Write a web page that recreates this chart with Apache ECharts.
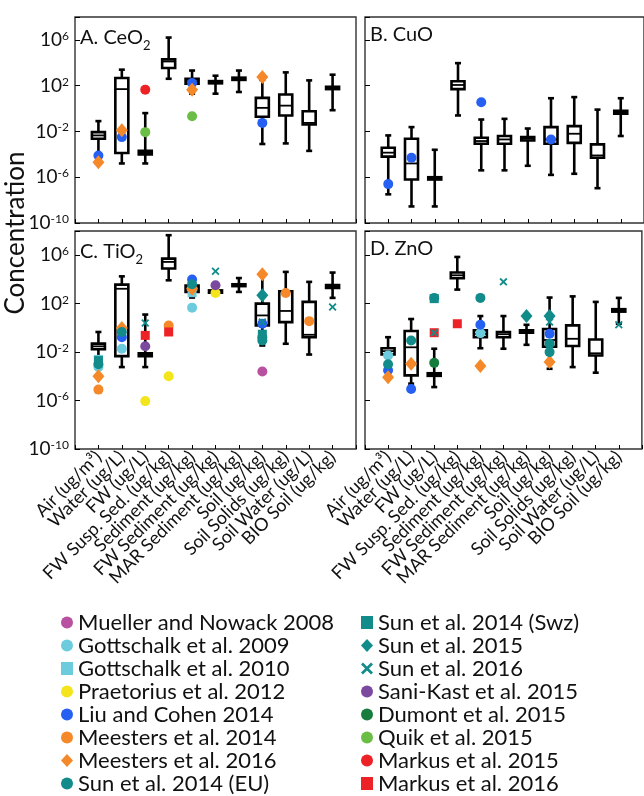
<!DOCTYPE html>
<html>
<head>
<meta charset="utf-8">
<script src="https://cdn.jsdelivr.net/npm/echarts@6/dist/echarts.min.js"></script>
<style>
  html, body { margin: 0; padding: 0; background: #fff; }
  #chart { width: 644px; height: 796px; }
</style>
</head>
<body>
<div id="chart"></div>
<script>
const FONT = "Lato";

const categories = [
  "Air (ug/m³)", "Water (ug/L)", "FW (ug/L)", "FW Susp. Sed. (ug/kg)",
  "Sediment (ug/kg)", "FW Sediment (ug/kg)", "MAR Sediment (ug/kg)",
  "Soil (ug/kg)", "Soil Solids (ug/kg)", "Soil Water (ug/L)", "BIO Soil (ug/kg)"
];
const yTickExps = [-10, -6, -2, 2, 6];
const panelTitles = ["A. CeO{s|2}", "B. CuO", "C. TiO{s|2}", "D. ZnO"];

// box data: [category position, min, q1, median, q3, max]
const boxCeO2 = [
  [1, 5e-5, 2.3e-3, 4.5e-3, 8.7e-3, 8e-2],
  [2, 1.6e-5, 1.3e-4, 50, 470, 2500],
  [3, 1.6e-5, 1e-4, 1.4e-4, 2e-4, 0.4],
  [4, 400, 3500, 1.3e4, 2e4, 1.6e6],
  [5, 20, 150, 250, 400, 2100],
  [6, 20, 160, 200, 250, 740],
  [7, 28, 320, 400, 500, 2100],
  [8, 8e-4, 0.19, 1.15, 8.5, 320],
  [9, 9e-4, 0.25, 1.8, 17, 1450],
  [10, 2e-4, 0.04, 0.056, 0.59, 290],
  [11, 0.72, 50, 63, 80, 910]
];
const boxCuO = [
  [1, 3.2e-8, 6.3e-5, 1.4e-4, 3.8e-4, 4.5e-3],
  [2, 2.8e-9, 6.3e-7, 1.6e-5, 2.3e-3, 2.4e-2],
  [3, 2.8e-9, 6.3e-7, 8e-7, 1e-6, 2.5e-4],
  [4, 0.25, 50, 115, 240, 9300],
  [5, 4e-6, 8.5e-4, 1.45e-3, 2.8e-3, 0.11],
  [6, 4e-6, 8.5e-4, 2e-3, 4e-3, 0.126],
  [7, 1e-5, 1.6e-3, 2.3e-3, 3.2e-3, 1.8e-2],
  [8, 1.6e-6, 8.5e-4, 2e-3, 2.4e-2, 8],
  [9, 2e-6, 1e-3, 6.3e-3, 2.9e-2, 10],
  [10, 1.1e-7, 5e-5, 8e-5, 7.4e-4, 0.81],
  [11, 4e-3, 0.35, 0.48, 0.63, 8]
];
const boxTiO2 = [
  [1, 1.1e-3, 1.7e-2, 3e-2, 5e-2, 0.46],
  [2, 5.8e-4, 4.7e-3, 1700, 3700, 1.8e4],
  [3, 5.8e-4, 4.5e-3, 6.3e-3, 8e-3, 12.6],
  [4, 8500, 8e4, 2.8e5, 5.2e5, 4.5e7],
  [5, 320, 930, 1700, 3200, 8500],
  [6, 560, 800, 1000, 1250, 1600],
  [7, 930, 2800, 3300, 4000, 1.3e4],
  [8, 3.5e-2, 1.6, 10.7, 100, 2e4],
  [9, 4.9e-2, 3, 25, 1050, 4.2e4],
  [10, 6.3e-3, 0.17, 0.27, 140, 6300],
  [11, 300, 2000, 2700, 3500, 3.7e4]
];
const boxZnO = [
  [1, 1.3e-3, 6.3e-3, 1.2e-2, 2.1e-2, 0.17],
  [2, 2.5e-5, 1.2e-4, 2.5e-2, 0.55, 5.4],
  [3, 1.3e-5, 1.1e-4, 1.4e-4, 1.8e-4, 1.9e-2],
  [4, 1450, 1.26e4, 2.2e4, 3.7e4, 7.2e5],
  [5, 2.1e-2, 0.17, 0.32, 0.63, 9.5],
  [6, 1.9e-2, 0.17, 0.3, 0.46, 9.5],
  [7, 4e-2, 0.4, 0.51, 0.63, 1.8],
  [8, 4.2e-4, 2.8e-2, 0.1, 0.8, 320],
  [9, 5.8e-4, 3.2e-2, 0.126, 1.6, 400],
  [10, 2e-4, 5.2e-3, 8e-3, 0.11, 140],
  [11, 2.2, 22, 28, 35, 300]
];

const studies = [
  "Mueller and Nowack 2008", "Gottschalk et al. 2009", "Gottschalk et al. 2010",
  "Praetorius et al. 2012", "Liu and Cohen 2014", "Meesters et al. 2014",
  "Meesters et al. 2016", "Sun et al. 2014 (EU)", "Sun et al. 2014 (Swz)",
  "Sun et al. 2015", "Sun et al. 2016", "Sani-Kast et al. 2015",
  "Dumont et al. 2015", "Quik et al. 2015", "Markus et al. 2015", "Markus et al. 2016"
];
const studyColors = [
  "#b8519f", "#6ccbdd", "#6ccbdd", "#f4e41c", "#2660f2", "#f5892a",
  "#f5892a", "#118c8a", "#118c8a", "#118c8a", "#118c8a", "#7b4a9e",
  "#177d3f", "#6abd45", "#ed2227", "#ed2227"
];
const XMARK = "path://M0,1.6L1.6,0L5,3.4L8.4,0L10,1.6L6.6,5L10,8.4L8.4,10L5,6.6L1.6,10L0,8.4L3.4,5Z";
const studySymbols = [
  "circle", "circle", "rect", "circle", "circle", "circle",
  "diamond", "circle", "rect", "diamond", XMARK, "circle",
  "circle", "circle", "circle", "rect"
];

// study points per panel: [category position, value]
const ptsCeO2 = {
  "Liu and Cohen 2014": [[1, 8e-5], [2, 3.2e-3], [5, 170], [8, 0.056]],
  "Meesters et al. 2016": [[1, 2e-5], [2, 1.3e-2], [5, 45], [8, 560]],
  "Quik et al. 2015": [[3, 8.7e-3], [5, 0.21]],
  "Markus et al. 2015": [[3, 45]]
};
const ptsCuO = {
  "Liu and Cohen 2014": [[1, 2.5e-7], [2, 5e-5], [5, 3.5], [8, 2e-3]]
};
const ptsTiO2 = {
  "Mueller and Nowack 2008": [[8, 2.5e-4]],
  "Gottschalk et al. 2009": [[1, 6e-4], [2, 1.9e-2], [5, 47]],
  "Gottschalk et al. 2010": [[1, 2.5e-3], [2, 0.3], [5, 800]],
  "Praetorius et al. 2012": [[3, 9e-7], [4, 1e-4], [6, 760]],
  "Liu and Cohen 2014": [[2, 0.17], [5, 1e4], [8, 2.2]],
  "Meesters et al. 2014": [[1, 8e-6], [4, 1.6], [9, 760], [10, 3.6]],
  "Meesters et al. 2016": [[1, 1e-4], [2, 1], [5, 1700], [8, 2.7e4]],
  "Sun et al. 2014 (EU)": [[1, 1e-3], [2, 0.46], [5, 4000], [8, 0.17], [8, 0.09]],
  "Sun et al. 2014 (Swz)": [[1, 2e-3], [8, 0.3]],
  "Sun et al. 2015": [[8, 500]],
  "Sani-Kast et al. 2015": [[3, 3e-2], [6, 3300]],
  "Markus et al. 2016": [[3, 0.24], [4, 0.46]],
  "Sun et al. 2016": [[3, 2.5], [6, 4.8e4], [8, 3], [11, 53]]
};
const ptsZnO = {
  "Gottschalk et al. 2009": [[1, 5.2e-3], [5, 0.37]],
  "Liu and Cohen 2014": [[1, 3.2e-4], [2, 9e-6], [5, 1.8], [8, 0.33]],
  "Meesters et al. 2016": [[1, 8.5e-5], [2, 1.1e-3], [5, 7e-4], [8, 1.5e-3]],
  "Sun et al. 2014 (Swz)": [[3, 260]],
  "Sun et al. 2014 (EU)": [[1, 1e-3], [2, 9e-2], [3, 300], [5, 300], [8, 5e-2], [8, 1e-2]],
  "Sun et al. 2015": [[7, 9.5], [8, 9.5]],
  "Dumont et al. 2015": [[3, 1.3e-3]],
  "Markus et al. 2016": [[3, 0.4], [4, 2.2]],
  "Sun et al. 2016": [[3, 0.4], [6, 6300], [8, 3], [11, 1.8]]
};

const boxes = [boxCeO2, boxCuO, boxTiO2, boxZnO];
const points = [ptsCeO2, ptsCuO, ptsTiO2, ptsZnO];

const grids = [
  { left: 75, top: 17, width: 281, height: 206 },
  { left: 365, top: 17, width: 280, height: 206 },
  { left: 75, top: 231, width: 281, height: 218 },
  { left: 365, top: 231, width: 280, height: 218 }
];

function renderBox(params, api) {
  const x = api.value(0);
  const pMax = api.coord([x, api.value(5)]);
  const pQ3 = api.coord([x, api.value(4)]);
  const pMed = api.coord([x, api.value(3)]);
  const pQ1 = api.coord([x, api.value(2)]);
  const pMin = api.coord([x, api.value(1)]);
  const cx = pMax[0];
  const hw = 6.5;
  const cw = 3;
  const ln = { stroke: "#000", lineWidth: 2.6 };
  return {
    type: "group",
    children: [
      { type: "line", shape: { x1: cx, y1: pMax[1], x2: cx, y2: pMin[1] }, style: ln },
      { type: "line", shape: { x1: cx - cw, y1: pMax[1], x2: cx + cw, y2: pMax[1] }, style: ln },
      { type: "line", shape: { x1: cx - cw, y1: pMin[1], x2: cx + cw, y2: pMin[1] }, style: ln },
      {
        type: "rect",
        shape: { x: cx - hw, y: pQ3[1], width: hw * 2, height: pQ1[1] - pQ3[1] },
        style: { fill: "#fff", stroke: "#000", lineWidth: 2.6 }
      },
      { type: "line", shape: { x1: cx - hw, y1: pMed[1], x2: cx + hw, y2: pMed[1] }, style: { stroke: "#000", lineWidth: 1.8 } }
    ]
  };
}

const chart = echarts.init(document.getElementById("chart"), null, { renderer: "canvas" });

const xAxes = grids.map((g, i) => ({
  type: "value",
  gridIndex: i,
  min: 0,
  max: 12,
  interval: 1,
  axisLine: { show: false },
  axisTick: { inside: true, length: 4, lineStyle: { color: "#000", width: 1 } },
  splitLine: { show: false },
  axisLabel: {
    show: i >= 2,
    rotate: 45,
    margin: 5,
    fontFamily: FONT,
    fontSize: 18,
    color: "#111",
    formatter: (v) => (v >= 1 && v <= 11 ? categories[v - 1] : "")
  }
}));

const yAxes = grids.map((g, i) => ({
  type: "log",
  logBase: 10,
  gridIndex: i,
  min: 1e-10,
  max: 1e8,
  interval: 4,
  axisLine: { show: false },
  axisTick: { inside: true, length: 5, lineStyle: { color: "#000", width: 1 } },
  splitLine: { show: false },
  axisLabel: {
    show: i % 2 === 0,
    margin: 6,
    fontFamily: FONT,
    formatter: (v) => {
      const e = Math.round(Math.log10(v));
      return yTickExps.indexOf(e) >= 0 ? "{b|10}{e|" + e + "}" : "";
    },
    rich: {
      b: { fontFamily: FONT, fontSize: 19, color: "#111", lineHeight: 20 },
      e: { fontFamily: FONT, fontSize: 12, color: "#111", verticalAlign: "top", lineHeight: 12 }
    }
  }
}));

const series = [];
boxes.forEach((b, i) => {
  series.push({
    type: "custom",
    xAxisIndex: i,
    yAxisIndex: i,
    renderItem: renderBox,
    encode: { x: 0, y: [1, 2, 3, 4, 5] },
    data: b,
    z: 2,
    silent: true
  });
});
points.forEach((p, i) => {
  studies.forEach((name, k) => {
    if (!p[name]) return;
    const sym = studySymbols[k];
    let size = 10;
    if (sym === "diamond") size = [12, 14];
    else if (sym === "rect") size = 9;
    else if (sym === XMARK) size = 8;
    series.push({
      type: "scatter",
      name: name,
      xAxisIndex: i,
      yAxisIndex: i,
      data: p[name],
      symbol: sym,
      symbolSize: size,
      itemStyle: { color: studyColors[k], opacity: 1 },
      z: name === "Sun et al. 2016" ? 5 : 3
    });
  });
});

const legendBase = {
  orient: "vertical",
  itemGap: 0,
  itemWidth: 12,
  itemHeight: 13,
  padding: 0,
  selectedMode: false,
  textStyle: { fontFamily: FONT, fontSize: 22, lineHeight: 23, color: "#111" }
};

chart.setOption({
  animation: false,
  textStyle: { fontFamily: FONT },
  grid: grids.map((g) => Object.assign({ show: true, borderColor: "#333", borderWidth: 1.4, backgroundColor: "#fff" }, g)),
  xAxis: xAxes,
  yAxis: yAxes,
  title: panelTitles.map((t, i) => ({
    text: t,
    left: grids[i].left + 5,
    top: grids[i].top + 7,
    padding: 0,
    textStyle: {
      fontFamily: FONT,
      fontSize: 20,
      fontWeight: "normal",
      color: "#111",
      lineHeight: 22,
      rich: {
        s: { fontFamily: FONT, fontSize: 13, color: "#111", verticalAlign: "bottom", lineHeight: 28 }
      }
    }
  })),
  legend: [
    Object.assign({ left: 61, top: 611, data: studies.slice(0, 8) }, legendBase),
    Object.assign({ left: 361, top: 611, data: studies.slice(8) }, legendBase)
  ],
  graphic: [{
    type: "text",
    x: 16,
    y: 233,
    rotation: Math.PI / 2,
    style: {
      text: "Concentration",
      font: "26px " + FONT,
      fill: "#111",
      align: "center",
      verticalAlign: "middle"
    }
  }],
  series: series
});
</script>
</body>
</html>
